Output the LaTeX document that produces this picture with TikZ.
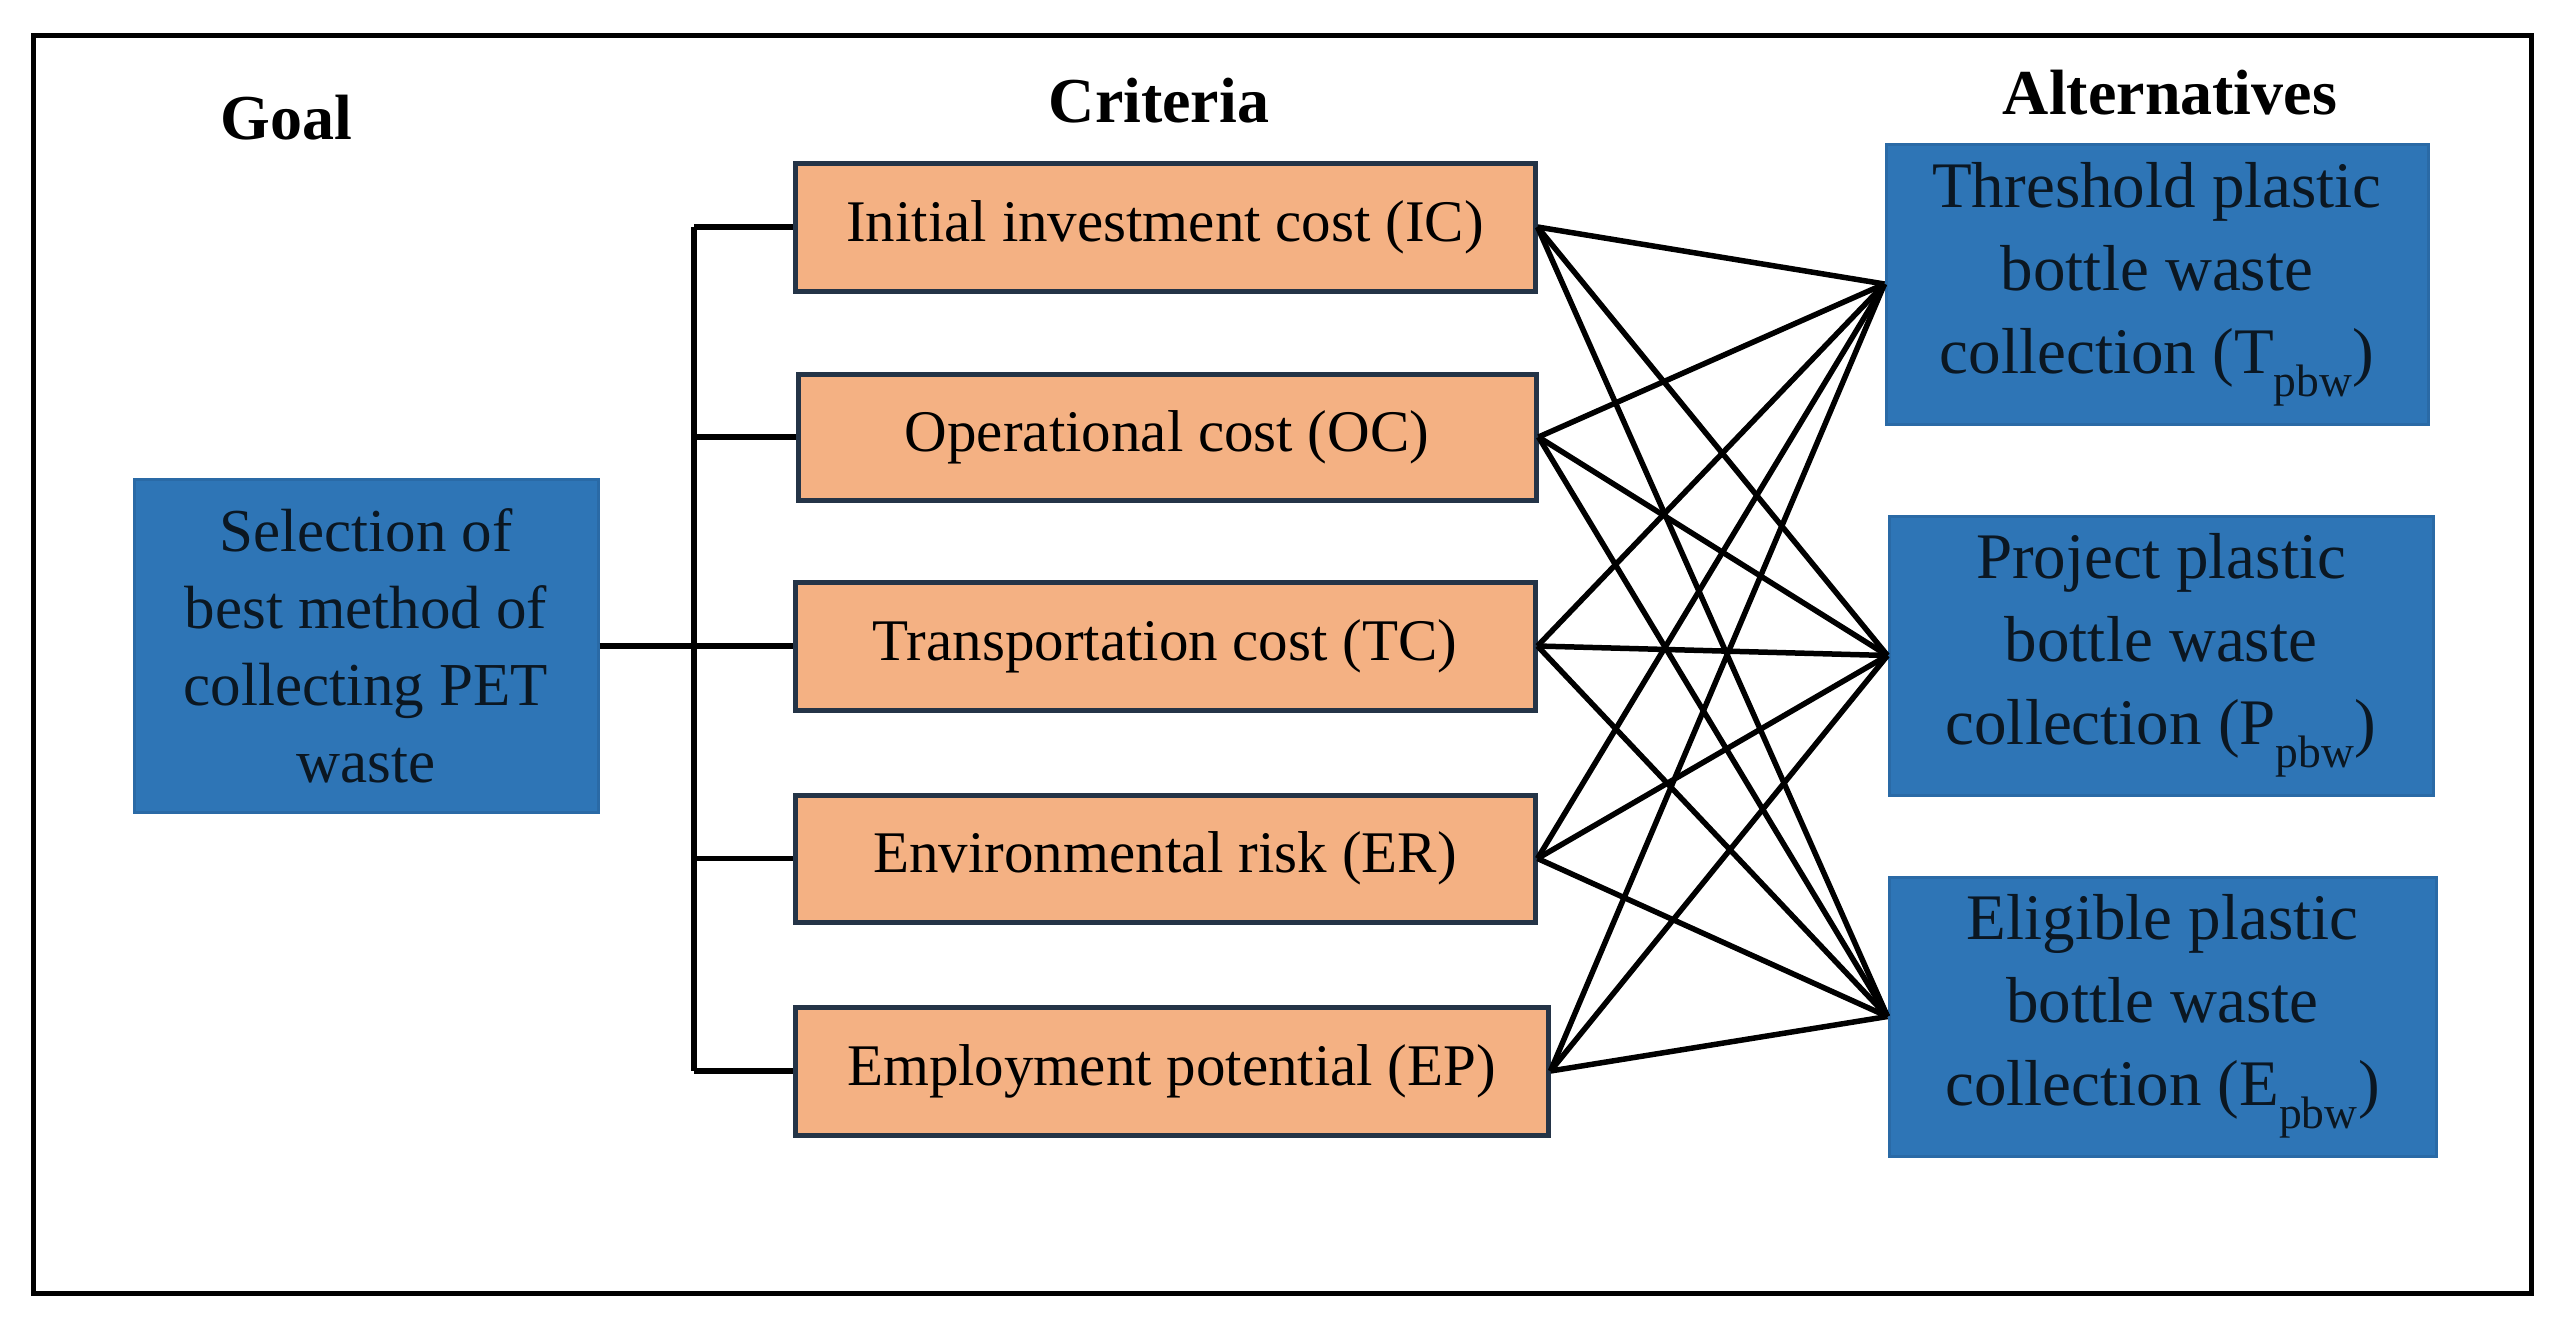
\documentclass[tikz,border=0pt]{standalone}
\usepackage{fontspec}
\setmainfont{Liberation Serif}
\definecolor{bluefill}{HTML}{2E75B6}
\definecolor{blueedge}{HTML}{2A6AA6}
\definecolor{orangefill}{HTML}{F4B183}
\definecolor{orangeedge}{HTML}{243447}
\definecolor{boxtext}{HTML}{0B1722}
\tikzset{
  bluebox/.style={draw=blueedge, fill=bluefill, line width=3pt, align=center, text=boxtext, inner sep=0pt},
  critbox/.style={draw=orangeedge, fill=orangefill, line width=5pt, align=center, text=black, inner sep=0pt,
     font=\fontsize{59}{70}\selectfont},
  heading/.style={font=\fontsize{64}{70}\selectfont\bfseries},
  link/.style={line width=5.5pt, black},
}
\begin{document}
\begin{tikzpicture}[x=1pt,y=-1pt]
\useasboundingbox (0,0) rectangle (2560,1322);
\draw[line width=5pt] (33,36) rectangle (2531,1293);
% headings
\node[heading] (hgoal) at (286,118) {Goal};
\node[heading] (hcrit) at (1159,101) {Criteria};
\node[heading] (halt) at (2170,93) {Alternatives};
% goal
\node[bluebox, minimum width=464pt, minimum height=333pt, font=\fontsize{61}{77}\selectfont] (goal) at (366,646)
  {Selection of\\best method of\\collecting PET\\waste};
% criteria
\node[critbox, minimum width=740pt, minimum height=128pt] (IC) at (1165,227) {Initial investment cost (IC)};
\node[critbox, minimum width=738pt, minimum height=126pt] (OC) at (1167,437) {Operational cost (OC)};
\node[critbox, minimum width=740pt, minimum height=128pt] (TC) at (1165,646) {Transportation cost (TC)};
\node[critbox, minimum width=740pt, minimum height=127pt] (ER) at (1165,858.5) {Environmental risk (ER)};
\node[critbox, minimum width=753pt, minimum height=128pt] (EP) at (1171.5,1071) {Employment potential (EP)};
% alternatives
\node[bluebox, minimum width=542pt, minimum height=280pt, font=\fontsize{65}{83}\selectfont] (T) at (2157,284)
  {Threshold plastic\\bottle waste\\collection (T\textsubscript{pbw})};
\node[bluebox, minimum width=544pt, minimum height=279pt, font=\fontsize{65}{83}\selectfont] (P) at (2161,655.5)
  {Project plastic\\bottle waste\\collection (P\textsubscript{pbw})};
\node[bluebox, minimum width=547pt, minimum height=279pt, font=\fontsize{65}{83}\selectfont] (E) at (2162.5,1016.5)
  {Eligible plastic\\bottle waste\\collection (E\textsubscript{pbw})};
% bus
\coordinate (bustop) at (694,227);
\coordinate (busbot) at (694,1071);
\draw[link] (bustop) -- (busbot);
\draw[link] (goal.east) -- (TC.west);
\foreach \c in {IC,OC,ER,EP}{
  \draw[link] (\c.west -| bustop) -- (\c.west);
}
% cross links
\foreach \c in {IC,OC,TC,ER,EP}{
  \foreach \a in {T,P,E}{
    \draw[link] (\c.east) -- (\a.west);
  }
}
\end{tikzpicture}
\end{document}
